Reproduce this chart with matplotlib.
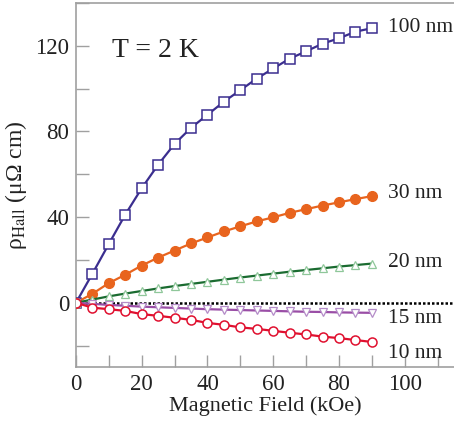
import matplotlib
matplotlib.use("Agg")
import matplotlib.pyplot as plt
from matplotlib.ticker import MultipleLocator

plt.rcParams['font.family'] = ['Liberation Serif', 'DejaVu Serif']
plt.rcParams['mathtext.fontset'] = 'stix'

field = [0, 5, 10, 15, 20, 25, 30, 35, 40, 45, 50, 55, 60, 65, 70, 75, 80, 85, 90]
rho_100 = [0, 13.6, 27.5, 41.2, 53.5, 64.5, 74.2, 81.7, 87.8, 93.9, 99.3, 104.7, 109.4, 114, 117.4, 121, 123.5, 126.6, 128.2]
rho_30 = [0, 4.2, 9.2, 13.1, 17.4, 21.1, 24.4, 27.7, 30.5, 33.3, 35.7, 38.0, 39.9, 42.0, 43.7, 45.4, 46.9, 48.4, 49.8]
rho_20 = [0, 1.5, 3.0, 4.3, 5.5, 6.7, 7.8, 8.8, 9.8, 10.8, 11.8, 12.7, 13.6, 14.5, 15.3, 16.1, 16.9, 17.6, 18.3]
rho_15 = [0, -0.5, -1.0, -1.4, -1.8, -2.1, -2.4, -2.7, -3.0, -3.2, -3.4, -3.6, -3.8, -4.0, -4.2, -4.3, -4.5, -4.6, -4.7]
rho_10 = [0, -2.3, -3.0, -3.8, -5.3, -6.1, -7.0, -8.0, -9.4, -10.3, -11.5, -12.2, -13.1, -14.0, -14.8, -15.8, -16.5, -17.4, -18.3]
labels = ["100 nm", "30 nm", "20 nm", "15 nm", "10 nm"]
label_y = [128.6, 51, 18.8, -7.5, -23.5]

fig = plt.figure(figsize=(4.54, 4.24), dpi=100)
ax = fig.add_axes([0.1674, 0.1344, 0.8326, 0.8586])

ax.axhline(0, color='black', lw=1.8, ls=(0, (1.0, 0.8)), zorder=1)

ax.plot(field, rho_100, '-s', color='#3B2E8F', lw=1.6, ms=6.5, mfc='white', mec='#3B2E8F', mew=1.1, zorder=3)
ax.plot(field, rho_30, '-o', color='#E8641E', lw=1.6, ms=7, mfc='#E8641E', mec='#E8641E', zorder=3)
ax.plot(field, rho_20, '-^', color='#1A6B30', lw=1.6, ms=5.5, mfc='white', mec='#8FC79A', mew=0.9, zorder=3)
ax.plot(field, rho_15, '-v', color='#9A4EA6', lw=1.6, ms=5.5, mfc='white', mec='#B48CC8', mew=0.9, zorder=3)
ax.plot(field, rho_10, '-o', color='#E0102F', lw=1.6, ms=6.5, mfc='white', mec='#E0102F', mew=1.1, zorder=4)

for lab, yv in zip(labels, label_y):
    ax.text(95, yv, lab, fontsize=15.5, va='center', ha='left', color='#222222')

ax.text(11, 118, "T = 2 K", fontsize=20, va='center', ha='left', color='#222222')

ax.set_xlim(0, 115)
ax.set_ylim(-30, 140)
ax.xaxis.set_minor_locator(MultipleLocator(10))
ax.yaxis.set_minor_locator(MultipleLocator(20))
ax.set_xticks([0, 20, 40, 60, 80, 100])
ax.set_yticks([0, 40, 80, 120])

ax.spines['right'].set_visible(False)
for s in ['left', 'top', 'bottom']:
    ax.spines[s].set_color('#A0A0A0')
    ax.spines[s].set_linewidth(1.2)
ax.tick_params(which='both', direction='in', color='#A0A0A0', labelsize=16.5, labelcolor='#222222', top=False, right=False, pad=5)
ax.tick_params(which='major', length=9, width=1)
ax.tick_params(which='minor', length=9, width=1)

ax.set_xlabel("Magnetic Field (kOe)", fontsize=16, color='#222222', labelpad=1)
ax.set_ylabel("ρ$_{\\rm Hall}$ (μΩ cm)", fontsize=17, color='#222222', labelpad=4)

fig.savefig("out.png", dpi=100)
